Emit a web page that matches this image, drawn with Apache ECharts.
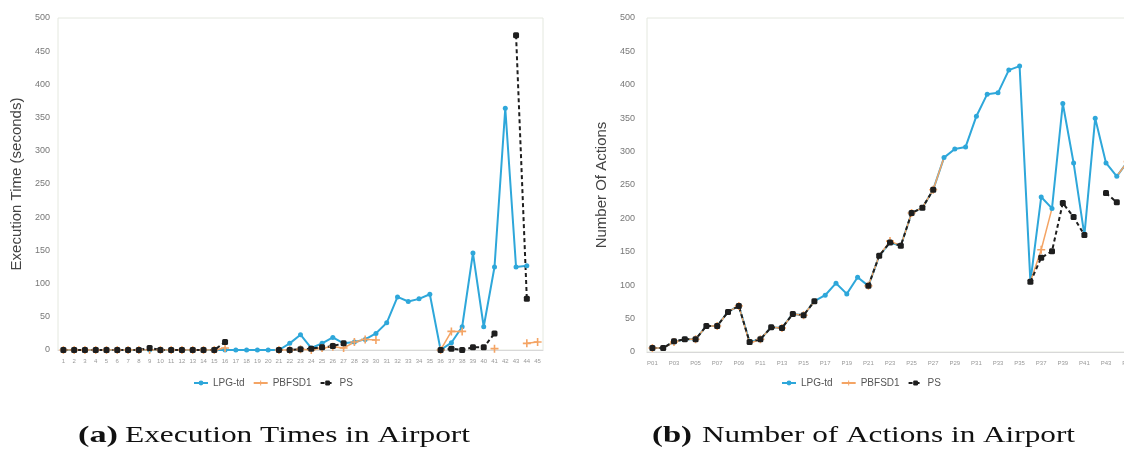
<!DOCTYPE html>
<html lang="en">
<head>
    <meta charset="UTF-8">
    <title>Execution Times and Number of Actions in Airport</title>
    <script src="https://cdn.jsdelivr.net/npm/echarts/dist/echarts.min.js"></script>
    <style>
        html, body { margin: 0; padding: 0; background: #fff; overflow: hidden; }
        body { width: 1124px; height: 451px; position: relative; }
        #timeChart { position: absolute; left: 0; top: 0; width: 562px; height: 451px; }
        #actionChart { position: absolute; left: 562px; top: 0; width: 600px; height: 451px; }
    </style>
</head>
<body>
    <div id="timeChart"></div>
    <div id="actionChart"></div>

    <script>
        // (a) execution times, problems 1..45
        const timeProblems = ['1','2','3','4','5','6','7','8','9','10','11','12','13','14','15',
            '16','17','18','19','20','21','22','23','24','25','26','27','28','29','30',
            '31','32','33','34','35','36','37','38','39','40','41','42','43','44','45'];
        const timeLpg = [0,0,0,0,0,0,0,0,0,0,0,0,0,0,0,
            0,0,0,0,0,0,10,23,3,10,19,10,12,16,25,
            41,80,73,77,84,0,11,35,146,35,125,364,125,127,null];
        const timePbfsd = [0,0,0,0,0,0,0,0,0,0,0,0,0,0,0,
            3,null,null,null,null,0,0,1,0,3,5,3,12,16,15,
            null,null,null,null,null,0,28,28,null,null,2,null,null,10,12];
        const timePs = [0,0,0,0,0,0,0,0,3,0,0,0,0,0,0,
            12,null,null,null,null,0,0,1,2,4,6,10,null,null,null,
            null,null,null,null,null,0,2,0,4,4,25,null,474,77,null];

        // (b) number of actions, problems P01..P45
        const actionProblems = ['P01','P02','P03','P04','P05','P06','P07','P08','P09','P10',
            'P11','P12','P13','P14','P15','P16','P17','P18','P19','P20',
            'P21','P22','P23','P24','P25','P26','P27','P28','P29','P30',
            'P31','P32','P33','P34','P35','P36','P37','P38','P39','P40',
            'P41','P42','P43','P44','P45'];
        const actionLpg = [6,6,15,19,19,39,39,60,69,15,
            19,37,36,57,55,76,85,103,87,112,
            99,144,164,159,208,216,243,291,304,307,
            353,386,388,422,428,105,232,215,372,283,
            175,350,283,263,285];
        const actionPbfsd = [6,6,15,19,19,39,39,60,69,13,
            19,37,36,57,55,76,null,null,null,null,
            99,144,166,159,208,216,243,291,null,307,
            null,null,null,null,null,105,153,215,null,null,
            null,null,null,263,285];
        const actionPs = [6,6,16,19,19,39,39,60,69,15,
            19,37,36,57,55,76,null,null,null,null,
            99,144,164,159,208,216,243,null,null,null,
            null,null,null,null,null,105,141,151,223,202,
            175,null,238,224,null];

        const yTicks = [0, 50, 100, 150, 200, 250, 300, 350, 400, 450, 500];

        const plusPath = 'path://M4,0H6V4H10V6H6V10H4V6H0V4H4Z';

        // caption text is drawn wide (the scan is stretched), so fit it to its width
        const measureCtx = document.createElement('canvas').getContext('2d');
        function captionText(text, x, width, bold) {
            var font = (bold ? 'bold ' : '') + '23px "Liberation Serif"';
            measureCtx.font = font;
            var w = measureCtx.measureText(text).width;
            return {
                type: 'text', x: x, y: 436, scaleX: width / w, silent: true,
                style: { text: text, font: font, fill: '#111', textAlign: 'left', textVerticalAlign: 'middle' }
            };
        }

        function makeSeries(lpg, pbfsd, ps) {
            return [
                {
                    name: 'LPG-td', type: 'line', data: lpg,
                    symbol: 'circle', symbolSize: 5,
                    itemStyle: { color: '#2ea7da' },
                    lineStyle: { color: '#2ea7da', width: 2 }
                },
                {
                    name: 'PBFSD1', type: 'line', data: pbfsd,
                    symbol: plusPath, symbolSize: 8,
                    itemStyle: { color: '#f4a464' },
                    lineStyle: { color: '#f4a464', width: 1.5 }
                },
                {
                    name: 'PS', type: 'line', data: ps,
                    symbol: 'roundRect', symbolSize: 6,
                    itemStyle: { color: '#1e1e1e' },
                    lineStyle: { color: '#1e1e1e', width: 2, type: [4, 3] }
                }
            ];
        }

        function createChart(containerId, opts) {
            var myChart = echarts.init(document.getElementById(containerId));
            var option = {
                animation: false,
                textStyle: { fontFamily: 'Liberation Sans' },
                graphic: [
                    captionText(opts.tag, opts.tagX, 40, true),
                    captionText(opts.caption, opts.captionX, opts.captionWidth, false)
                ],
                legend: {
                    data: ['LPG-td', 'PBFSD1', 'PS'],
                    left: opts.legendLeft,
                    top: 373,
                    itemWidth: 14,
                    itemHeight: 6,
                    itemGap: 8,
                    textStyle: { fontSize: 10, color: '#555' }
                },
                grid: {
                    left: opts.gridLeft, right: opts.gridRight, top: 18, bottom: opts.gridBottom,
                    show: true, borderColor: '#e4e8df', borderWidth: 1
                },
                xAxis: {
                    type: 'category',
                    data: opts.categories,
                    boundaryGap: true,
                    axisLine: { lineStyle: { color: '#d8d8d8' } },
                    axisTick: { show: false },
                    axisLabel: { interval: opts.labelInterval, fontSize: 6, color: '#999', margin: 8 }
                },
                yAxis: {
                    type: 'value',
                    min: yTicks[0],
                    max: yTicks[yTicks.length - 1],
                    interval: 50,
                    name: opts.yName,
                    nameLocation: 'middle',
                    nameGap: opts.nameGap,
                    nameTextStyle: { fontSize: 15, color: '#444' },
                    axisLine: { show: false },
                    axisTick: { show: false },
                    splitLine: { show: false },
                    axisLabel: { fontSize: 9, color: '#777', margin: opts.labelMargin }
                },
                series: makeSeries(opts.lpg, opts.pbfsd, opts.ps)
            };
            myChart.setOption(option);
        }

        createChart('timeChart', {
            tag: '(a)', tagX: 78,
            caption: 'Execution Times in Airport', captionX: 125, captionWidth: 345,
            legendLeft: 188,
            gridLeft: 58, gridRight: 19, gridBottom: 101,
            categories: timeProblems, labelInterval: 0,
            yName: 'Execution Time (seconds)', nameGap: 33, labelMargin: 8,
            lpg: timeLpg, pbfsd: timePbfsd, ps: timePs
        });

        createChart('actionChart', {
            tag: '(b)', tagX: 90,
            caption: 'Number of Actions in Airport', captionX: 140, captionWidth: 373,
            legendLeft: 214,
            gridLeft: 85, gridRight: 29, gridBottom: 99,
            categories: actionProblems, labelInterval: 1,
            yName: 'Number Of Actions', nameGap: 34, labelMargin: 12,
            lpg: actionLpg, pbfsd: actionPbfsd, ps: actionPs
        });
    </script>
</body>
</html>
